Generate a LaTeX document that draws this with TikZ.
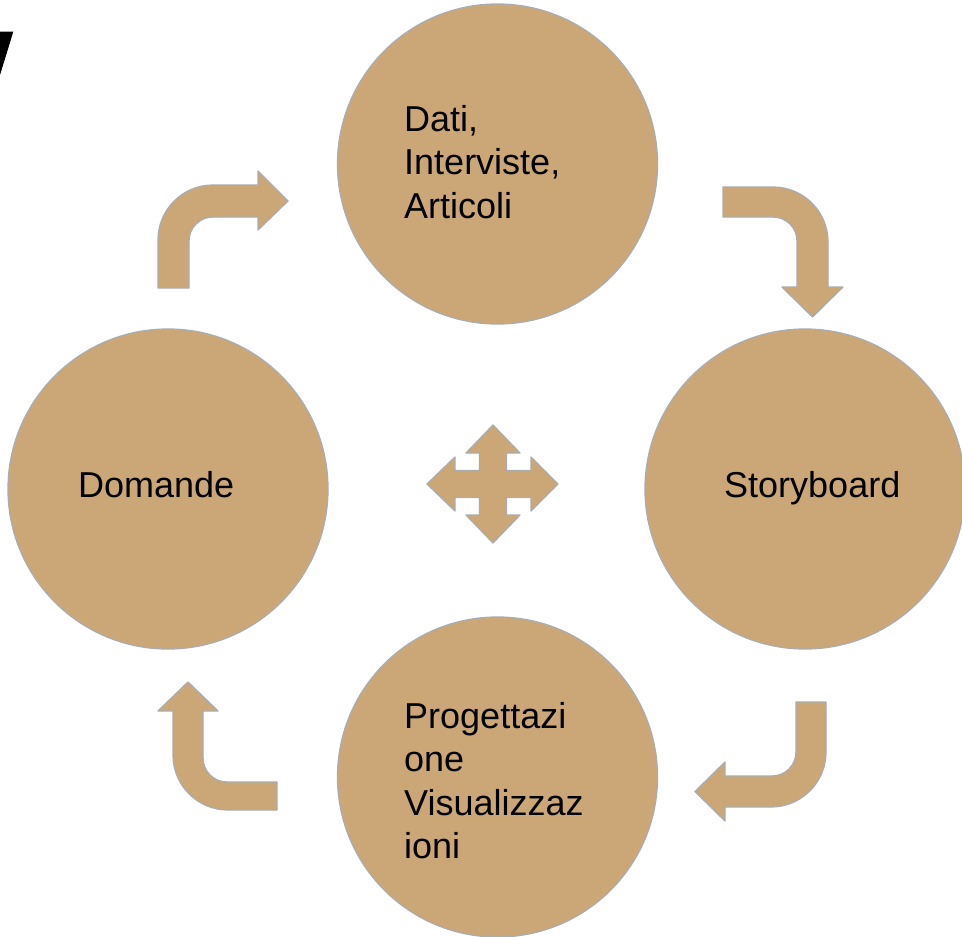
\documentclass[tikz,border=0pt]{standalone}
\usepackage{fontspec}
\setmainfont{Liberation Sans}
\begin{document}
\begin{tikzpicture}[x=1pt,y=-1pt,
  shapefill/.style={fill={rgb,255:red,203;green,167;blue,120}, draw={rgb,255:red,172;green,172;blue,172}, line width=1.3pt, line join=round},
  bubble/.style={shapefill, circle, minimum size=320pt, inner sep=0pt},
  label/.style={font=\fontsize{36}{43.5}\selectfont, inner sep=0pt, align=left, text=black}]
\useasboundingbox (0,0) rectangle (962,937);
\clip (0,0) rectangle (962,937);
\fill[white] (0,0) rectangle (962,937);
% partial title glyph
\fill[black] (0,31.7) -- (13.3,31.7) -- (0,75) -- cycle;
% circles
\node[bubble] (top) at (497.5,164) {};
\node[bubble] (left) at (168,489) {};
\node[bubble] (right) at (805,489) {};
\node[bubble] (bottom) at (497.5,777) {};
% labels
\node[label, anchor=north west] (ttop) at (404,105.2) {Dati,\\Interviste,\\Articoli};
\node[label, anchor=base west] (tleft) at (78,497) {Domande};
\node[label, anchor=base west] (tright) at (724,497) {Storyboard};
\node[label, anchor=north west] (tbottom) at (404,702.2) {Progettazi\\one\\Visualizzaz\\ioni};
% bent arrows
\path[shapefill] (158,288) -- (158,240) .. controls (158,209.6) and (182.6,185) .. (213,185) -- (258,185) -- (258,171) -- (288,201) -- (258,230) -- (258,217) -- (213,217) .. controls (199.7,217) and (189,227.7) .. (189,241) -- (189,288) -- cycle;
\path[shapefill] (723,187) -- (773,187) .. controls (803.4,187) and (828,211.6) .. (828,242) -- (828,287) -- (843,287) -- (812.5,317) -- (782,287) -- (797,287) -- (797,241) .. controls (797,227.7) and (786.3,217) .. (773,217) -- (723,217) -- cycle;
\path[shapefill] (796,702) -- (826,702) -- (826,752) .. controls (826,782.4) and (801.4,807) .. (771,807) -- (725,807) -- (725,821) -- (695,791.5) -- (725,762) -- (725,776) -- (772,776) .. controls (785.3,776) and (796,765.3) .. (796,752) -- cycle;
\path[shapefill] (277,782) -- (227,782) .. controls (213.7,782) and (203,771.3) .. (203,758) -- (203,711) -- (218,711) -- (188,682) -- (158,711) -- (173,711) -- (173,755) .. controls (173,785.4) and (197.6,810) .. (228,810) -- (277,810) -- cycle;
% four-way arrow
\path[shapefill] (493,425) -- (520,453) -- (506.5,453) -- (506.5,470.5) -- (531,470.5) -- (531,457) -- (558,484) -- (531,511) -- (531,497.5) -- (506.5,497.5) -- (506.5,515) -- (520,515) -- (493,543) -- (466,515) -- (479.5,515) -- (479.5,497.5) -- (455,497.5) -- (455,511) -- (427,484) -- (455,457) -- (455,470.5) -- (479.5,470.5) -- (479.5,453) -- (466,453) -- cycle;
\end{tikzpicture}
\end{document}
